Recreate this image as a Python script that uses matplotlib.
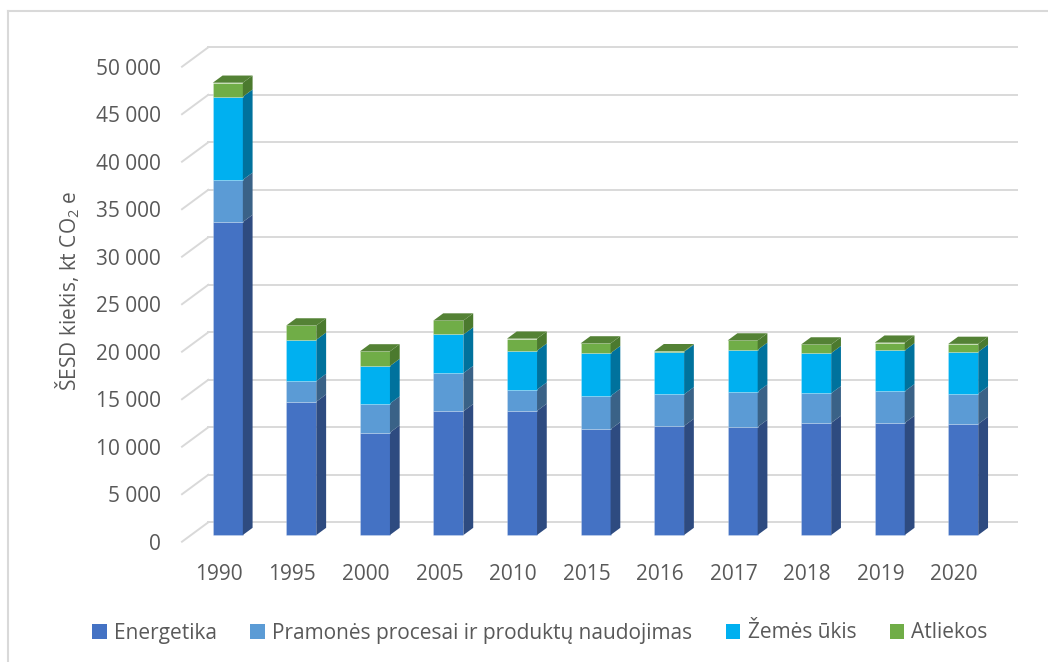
import matplotlib
matplotlib.use("Agg")
import matplotlib.pyplot as plt
from matplotlib.patches import Polygon, Patch, Rectangle
from matplotlib.lines import Line2D

# ---- data (kt CO2 ekv.) ----
years = ['1990', '1995', '2000', '2005', '2010', '2015', '2016', '2017', '2018', '2019', '2020']
energetika = [32950, 14040, 10790, 13030, 13070, 11130, 11480, 11380, 11800, 11800, 11690]
pramone = [4440, 2170, 3050, 4020, 2240, 3500, 3330, 3710, 3120, 3330, 3180]
zemes_ukis = [8750, 4350, 3950, 4060, 4100, 4520, 4480, 4410, 4230, 4310, 4410]
atliekos = [1470, 1500, 1540, 1470, 1260, 1020, 60, 980, 910, 810, 840]

series_names = ['Energetika', 'Pramonės procesai ir produktų naudojimas', 'Žemės ūkis', 'Atliekos']
series_values = [energetika, pramone, zemes_ukis, atliekos]
front_colors = ['#4472C4', '#5B9BD5', '#00B0F0', '#70AD47']
side_colors = ['#2E4B80', '#3A6287', '#00729D', '#4B7A2E']
top_color = '#548235'

y_ticks = list(range(0, 50001, 5000))

plt.rcParams['font.family'] = ['Open Sans', 'DejaVu Sans']
plt.rcParams['mathtext.default'] = 'regular'
text_color = '#595959'
grid_color = '#D9D9D9'

W, H = 1048, 662
fig = plt.figure(figsize=(W / 100, H / 100), dpi=100)

# front plane of the 3D box, in pixels
left_px, right_px = 182, 991
y0_px, ytop_px = 541.7, 66.7
ax = fig.add_axes([left_px / W, 1 - y0_px / H, (right_px - left_px) / W, (y0_px - ytop_px) / H])
n = len(years)
ax.set_xlim(-0.5, n - 0.5)
ax.set_ylim(0, 50000)
for s in ax.spines.values():
    s.set_visible(False)
ax.set_facecolor('none')

px_per_cat = (right_px - left_px) / n
px_per_val = (y0_px - ytop_px) / 50000

# depth of the box (front plane -> back wall)
depth_dx = 26.3 / px_per_cat
depth_dy = 19.4 / px_per_val

# gridlines: diagonal on the left wall + horizontal on the back wall
for v in y_ticks:
    ax.add_line(Line2D([-0.5, -0.5 + depth_dx], [v, v + depth_dy], color=grid_color,
                       lw=1.4, clip_on=False, zorder=1))
    ax.add_line(Line2D([-0.5 + depth_dx, n - 0.5 + depth_dx], [v + depth_dy, v + depth_dy],
                       color=grid_color, lw=1.4, clip_on=False, zorder=1))

# bars: front face at part of the depth, with a side and top face
bar_w = 0.408
f_front = 0.345
f_bar = 0.37
off_x, off_y = f_front * depth_dx, f_front * depth_dy
bd_x, bd_y = f_bar * depth_dx, f_bar * depth_dy

for i in range(n):
    bottom = 0.0
    x0 = i - bar_w / 2 + off_x
    x1 = i + bar_w / 2 + off_x
    for k, vals in enumerate(series_values):
        v = vals[i]
        y0 = bottom + off_y
        y1 = bottom + v + off_y
        ax.add_patch(Rectangle((x0, y0), x1 - x0, y1 - y0, facecolor=front_colors[k],
                               edgecolor=(1, 1, 1, 0.3), lw=0.5, clip_on=False, zorder=3))
        ax.add_patch(Polygon([(x1, y0), (x1 + bd_x, y0 + bd_y), (x1 + bd_x, y1 + bd_y), (x1, y1)],
                             closed=True, facecolor=side_colors[k], edgecolor='none',
                             clip_on=False, zorder=3))
        bottom += v
    ytop = bottom + off_y
    ax.add_patch(Polygon([(x0, ytop), (x1, ytop), (x1 + bd_x, ytop + bd_y), (x0 + bd_x, ytop + bd_y)],
                         closed=True, facecolor=top_color, edgecolor='none',
                         clip_on=False, zorder=3))

# axis labels
ax.set_yticks(y_ticks)
ax.set_yticklabels([f"{v:,}".replace(',', ' ') for v in y_ticks], fontsize=15, color=text_color)
ax.tick_params(axis='y', length=0, pad=15)
ax.set_xticks(range(n))
ax.set_xticklabels(years, fontsize=15, color=text_color)
ax.tick_params(axis='x', length=0, pad=16)

fig.text(68 / W, 1 - 291 / H, r'ŠESD kiekis, kt CO$_{2}$ e', rotation=90, fontsize=15,
         color=text_color, ha='center', va='center')

handles = [Patch(facecolor=c, edgecolor='none') for c in front_colors]
fig.legend(handles, series_names, loc='center', bbox_to_anchor=(540 / W, 1 - 633 / H), ncol=4,
           frameon=False, fontsize=15, labelcolor=text_color, handlelength=0.7, handleheight=0.7,
           handletextpad=0.35, columnspacing=1.6)

# chart border
fig.add_artist(Line2D([8 / W, 8 / W], [1 - 11 / H, 0], color=grid_color, lw=1.5))
fig.add_artist(Line2D([8 / W, 1], [1 - 11 / H, 1 - 11 / H], color=grid_color, lw=1.5))

fig.savefig('out.png', dpi=100)
